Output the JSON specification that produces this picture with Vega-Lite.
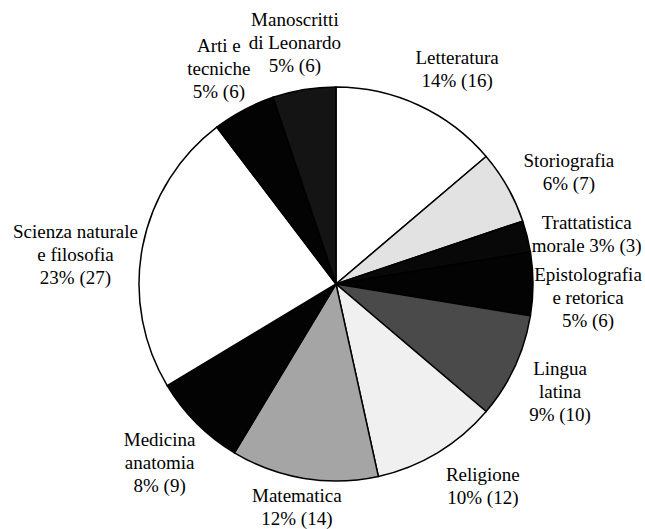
{
  "$schema": "https://vega.github.io/schema/vega-lite/v6.json",
  "autosize": {"type": "none"},
  "width": 394,
  "height": 394,
  "padding": {"left": 139, "top": 87, "right": 112, "bottom": 48},
  "background": "white",
  "config": {"view": {"stroke": null}},
  "data": {
    "values": [
      {"ord": 1, "cat": "Letteratura", "n": 16, "label": "Letteratura\n14% (16)"},
      {"ord": 2, "cat": "Storiografia", "n": 7, "label": "Storiografia\n6% (7)"},
      {"ord": 3, "cat": "Trattatistica morale", "n": 3, "label": "Trattatistica\nmorale 3% (3)"},
      {"ord": 4, "cat": "Epistolografia e retorica", "n": 6, "label": "Epistolografia\ne retorica\n5% (6)"},
      {"ord": 5, "cat": "Lingua latina", "n": 10, "label": "Lingua\nlatina\n9% (10)"},
      {"ord": 6, "cat": "Religione", "n": 12, "label": "Religione\n10% (12)"},
      {"ord": 7, "cat": "Matematica", "n": 14, "label": "Matematica\n12% (14)"},
      {"ord": 8, "cat": "Medicina anatomia", "n": 9, "label": "Medicina\nanatomia\n8% (9)"},
      {"ord": 9, "cat": "Scienza naturale e filosofia", "n": 27, "label": "Scienza naturale\ne filosofia\n23% (27)"},
      {"ord": 10, "cat": "Arti e tecniche", "n": 6, "label": "Arti e\ntecniche\n5% (6)"},
      {"ord": 11, "cat": "Manoscritti di Leonardo", "n": 6, "label": "Manoscritti\ndi Leonardo\n5% (6)"}
    ]
  },
  "encoding": {
    "theta": {"field": "n", "type": "quantitative", "stack": true},
    "order": {"field": "ord", "type": "quantitative"}
  },
  "layer": [
    {
      "mark": {"type": "arc", "outerRadius": 197, "stroke": "#000", "strokeWidth": 1.5},
      "encoding": {
        "color": {
          "field": "cat",
          "type": "nominal",
          "legend": null,
          "scale": {
            "domain": ["Letteratura", "Storiografia", "Trattatistica morale", "Epistolografia e retorica", "Lingua latina", "Religione", "Matematica", "Medicina anatomia", "Scienza naturale e filosofia", "Arti e tecniche", "Manoscritti di Leonardo"],
            "range": ["#ffffff", "#e2e2e2", "#080808", "#030303", "#4a4a4a", "#f0f0f0", "#a5a5a5", "#030303", "#ffffff", "#030303", "#141414"]
          }
        }
      }
    },
    {
      "mark": {"type": "text", "radius": 248, "dx": 17, "dy": -1, "align": "center", "baseline": "middle", "lineBreak": "\n", "lineHeight": 23, "font": "Liberation Serif", "fontSize": 19, "color": "#000"},
      "encoding": {
        "text": {"condition": {"test": {"field": "cat", "oneOf": ["Letteratura", "Storiografia"]}, "field": "label", "type": "nominal"}, "value": ""}
      }
    },
    {
      "mark": {"type": "text", "radius": 248, "dx": 10, "dy": -1, "align": "center", "baseline": "middle", "lineBreak": "\n", "lineHeight": 23, "font": "Liberation Serif", "fontSize": 19, "color": "#000"},
      "encoding": {
        "text": {"condition": {"test": {"field": "cat", "oneOf": ["Trattatistica morale"]}, "field": "label", "type": "nominal"}, "value": ""}
      }
    },
    {
      "mark": {"type": "text", "radius": 248, "dx": 19, "dy": -22, "align": "center", "baseline": "middle", "lineBreak": "\n", "lineHeight": 23, "font": "Liberation Serif", "fontSize": 19, "color": "#000"},
      "encoding": {
        "text": {"condition": {"test": {"field": "cat", "oneOf": ["Religione"]}, "field": "label", "type": "nominal"}, "value": ""}
      }
    },
    {
      "mark": {"type": "text", "radius": 248, "dx": 1, "dy": -33, "align": "center", "baseline": "middle", "lineBreak": "\n", "lineHeight": 23, "font": "Liberation Serif", "fontSize": 19, "color": "#000"},
      "encoding": {
        "text": {"condition": {"test": {"field": "cat", "oneOf": ["Matematica"]}, "field": "label", "type": "nominal"}, "value": ""}
      }
    },
    {
      "mark": {"type": "text", "radius": 248, "dx": -1, "dy": -19, "align": "center", "baseline": "middle", "lineBreak": "\n", "lineHeight": 23, "font": "Liberation Serif", "fontSize": 19, "color": "#000"},
      "encoding": {
        "text": {"condition": {"test": {"field": "cat", "oneOf": ["Lingua latina", "Medicina anatomia", "Arti e tecniche", "Manoscritti di Leonardo"]}, "field": "label", "type": "nominal"}, "value": ""}
      }
    },
    {
      "mark": {"type": "text", "radius": 248, "dx": 4, "dy": -9, "align": "center", "baseline": "middle", "lineBreak": "\n", "lineHeight": 23, "font": "Liberation Serif", "fontSize": 19, "color": "#000"},
      "encoding": {
        "text": {"condition": {"test": {"field": "cat", "oneOf": ["Epistolografia e retorica"]}, "field": "label", "type": "nominal"}, "value": ""}
      }
    },
    {
      "mark": {"type": "text", "radius": 248, "dx": -17, "dy": -5, "align": "center", "baseline": "middle", "lineBreak": "\n", "lineHeight": 23, "font": "Liberation Serif", "fontSize": 19, "color": "#000"},
      "encoding": {
        "text": {"condition": {"test": {"field": "cat", "oneOf": ["Scienza naturale e filosofia"]}, "field": "label", "type": "nominal"}, "value": ""}
      }
    }
  ]
}
